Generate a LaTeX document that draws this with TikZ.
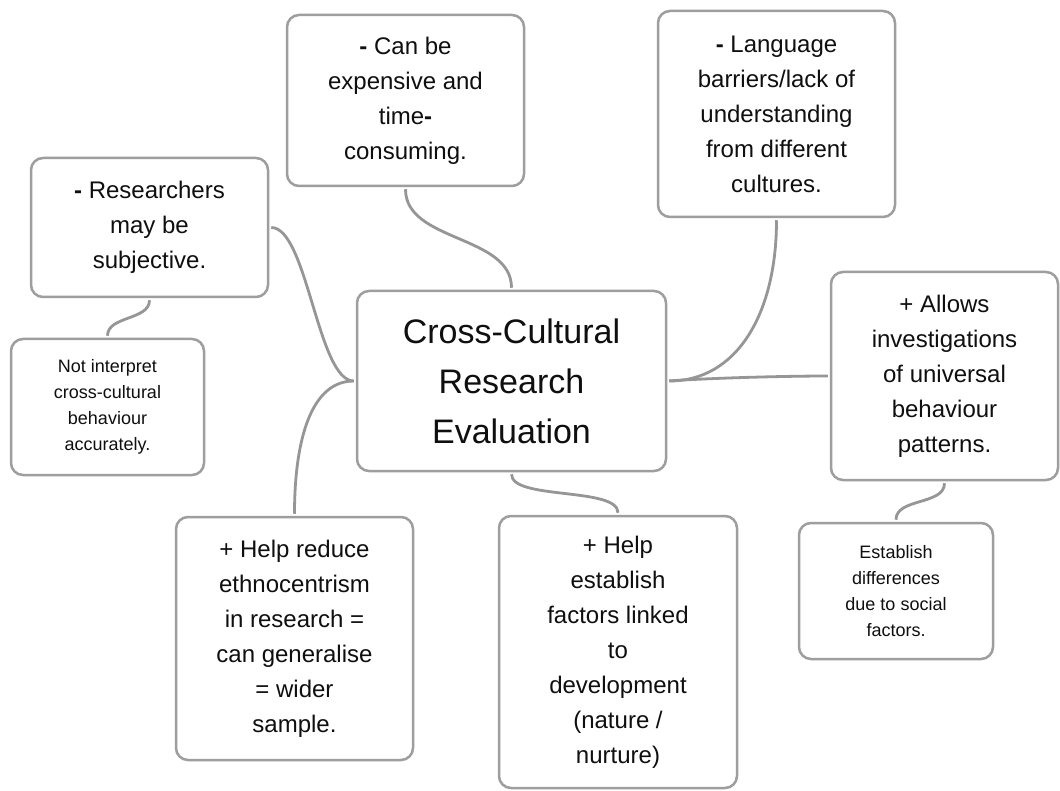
\documentclass[tikz,border=0pt]{standalone}
\usepackage{fontspec}
\setmainfont{Liberation Sans}
\usepackage{xcolor}
\definecolor{boxgrey}{RGB}{158,158,158}
\definecolor{linkgrey}{RGB}{150,150,150}
\definecolor{inkblack}{RGB}{15,15,15}
\usepackage{tikz}
\newcommand{\widthnote}{237pt}
\newcommand{\widthsub}{193pt}
\newcommand{\dash}{\textbf{-}}
\tikzset{
    common/.style={draw=boxgrey, line width=2.5pt, rounded corners=12pt, fill=white, align=center, inner sep=0pt, text=inkblack},
    note/.style={common, minimum width=\widthnote, font=\fontsize{24}{35}\selectfont},
    subnote/.style={common, minimum width=\widthsub, font=\fontsize{18}{26}\selectfont},
    topic/.style={common, minimum width=309pt, minimum height=180pt, font=\fontsize{34}{50}\selectfont},
    link/.style={draw=linkgrey, line width=2.8pt, shorten <=2pt, shorten >=2pt}
}

\begin{document}
\begin{tikzpicture}[x=1pt, y=-1pt]
        \fill[white] (0,0) rectangle (1060,791);
        \useasboundingbox (0,0) rectangle (1060,791);

        \path
            (511.5,381) node[topic] (eval) {Cross-Cultural\\Research\\Evaluation}
            (405.5,100.5) node[note, minimum height=171pt] (cost) {\dash{} Can be\\expensive and\\time\dash\\consuming.}
            (776.5,114) node[note, minimum height=206pt] (lang) {\dash{} Language\\barriers/lack of\\understanding\\from different\\cultures.}
            (149.5,227.5) node[note, minimum height=139pt] (subj) {\dash{} Researchers\\may be\\subjective.}
            (107.5,407) node[subnote, minimum height=136pt] (interp) {Not interpret\\cross-cultural\\behaviour\\accurately.}
            (944.5,376) node[note, minimum width=227pt, minimum height=208pt] (univ) {+ Allows\\investigations\\of universal\\behaviour\\patterns.}
            (896,591) node[subnote, minimum width=194pt, minimum height=136pt] (social) {Establish\\differences\\due to social\\factors.}
            (294.5,638.5) node[note, minimum height=243pt] (ethno) {+ Help reduce\\ethnocentrism\\in research =\\can generalise\\= wider\\sample.}
            (618,652) node[note, minimum width=238pt, minimum height=272pt] (nature) {+ Help\\establish\\factors linked\\to\\development\\(nature /\\nurture)};

        \draw[link] (eval.west) .. controls +(-38,0) and +(38,0) .. (subj.east);
        \draw[link] (eval.west) .. controls +(-45,0) and +(0,-75) .. (ethno.north);
        \draw[link] (eval.north) .. controls +(0,-55) and +(0,55) .. (cost.south);
        \draw[link] (eval.east) .. controls +(70,0) and +(0,95) .. (lang.south);
        \draw[link] (eval.east) .. controls +(45,-3) and +(-45,0) .. (univ.west);
        \draw[link] (eval.south) .. controls +(0,28) and +(0,-28) .. (nature.north);
        \draw[link] (subj.south) .. controls +(0,22) and +(0,-22) .. (interp.north);
        \draw[link] (univ.south) .. controls +(0,24) and +(0,-24) .. (social.north);
    \end{tikzpicture}
\end{document}
